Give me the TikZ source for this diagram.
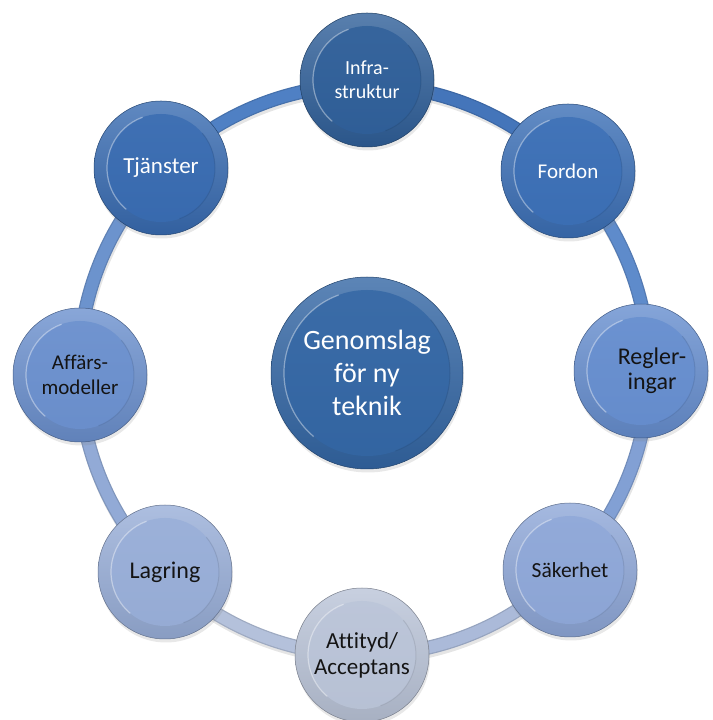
\documentclass[tikz,border=0pt]{standalone}
\usepackage{fontspec}
\setmainfont{Carlito}[Ligatures=NoCommon]
\usetikzlibrary{shadows}
\definecolor{cInfra}{HTML}{2F5F99}
\definecolor{cCenter}{HTML}{3366A4}
\definecolor{cFordon}{HTML}{3B6FB6}
\definecolor{cTja}{HTML}{386BB1}
\definecolor{cRegler}{HTML}{668ECF}
\definecolor{cAff}{HTML}{6B90CE}
\definecolor{cSak}{HTML}{8EA7D8}
\definecolor{cLag}{HTML}{98AED8}
\definecolor{cAtt}{HTML}{BAC4D8}
\definecolor{sTI}{HTML}{4F80C4}
\definecolor{sIF}{HTML}{4475BA}
\definecolor{sFR}{HTML}{5E8BCB}
\definecolor{sRS}{HTML}{82A0D4}
\definecolor{sSA}{HTML}{ABBAD9}
\definecolor{sAL}{HTML}{B4C1DB}
\definecolor{sLA}{HTML}{92AAD6}
\definecolor{sAT}{HTML}{6C93CD}
\tikzset{
  inner r/.store in=\innerr, inner r=54pt,
  seg/.style={line width=14pt, draw=#1!88!black,
    preaction={draw=black, opacity=.10, line width=14pt, transform canvas={xshift=1pt,yshift=-3pt}},
    postaction={draw=#1, line width=11.5pt}},
  bub/.style={circle, inner sep=0pt, minimum size=134pt, align=center,
    top color=#1!80!white, bottom color=#1!90!black, draw=#1!65!black, line width=0.5pt,
    drop shadow={shadow xshift=1pt, shadow yshift=-3.5pt, opacity=.18},
    path picture={
      \shade[top color=#1!96!white, bottom color=#1!98!black] (path picture bounding box.center) circle (\innerr);
      \draw[white, opacity=.4, line width=1.2pt] (path picture bounding box.center) ++(110:\innerr) arc[start angle=110, end angle=230, radius=\innerr];
      \draw[#1!70!black, opacity=.3, line width=1pt] (path picture bounding box.center) ++(-70:\innerr) arc[start angle=-70, end angle=40, radius=\innerr];
    }},
  wtext/.style={text=white},
  btext/.style={text=black!92}
}
\begin{document}
\begin{tikzpicture}[x=1pt,y=1pt]
\useasboundingbox (0,0) rectangle (712,720);
\coordinate (rc) at (364,350);
% ring segments
\draw[seg=sTI] (rc) ++(135:285) arc[start angle=135,end angle=90,radius=285];
\draw[seg=sIF] (rc) ++(90:285) arc[start angle=90,end angle=45,radius=285];
\draw[seg=sFR] (rc) ++(45:285) arc[start angle=45,end angle=0,radius=285];
\draw[seg=sRS] (rc) ++(0:285) arc[start angle=0,end angle=-45,radius=285];
\draw[seg=sSA] (rc) ++(-45:285) arc[start angle=-45,end angle=-90,radius=285];
\draw[seg=sAL] (rc) ++(-90:285) arc[start angle=-90,end angle=-135,radius=285];
\draw[seg=sLA] (rc) ++(-135:285) arc[start angle=-135,end angle=-180,radius=285];
\draw[seg=sAT] (rc) ++(180:285) arc[start angle=180,end angle=135,radius=285];
% circles
\node[bub=cInfra, wtext, font=\fontsize{20}{24}\selectfont] (infra) at (367,640) {Infra-\\struktur};
\node[bub=cFordon, wtext, font=\fontsize{21}{25}\selectfont] (fordon) at (568,549) {Fordon};
\node[bub=cRegler, btext, font=\fontsize{24}{25}\selectfont] (regler) at (641,349) {\hspace*{22pt}Regler-\\\hspace*{22pt}ingar};
\node[bub=cSak, btext, font=\fontsize{21.5}{25}\selectfont] (sak) at (570,150) {Säkerhet};
\node[bub=cAtt, btext, font=\fontsize{23}{26}\selectfont] (att) at (362,65) {Attityd/\\Acceptans};
\node[bub=cLag, btext, font=\fontsize{24}{28}\selectfont] (lag) at (165,148) {Lagring};
\node[bub=cAff, btext, font=\fontsize{21}{25}\selectfont] (aff) at (80,345) {Affärs-\\modeller};
\node[bub=cTja, wtext, font=\fontsize{23}{27}\selectfont] (tja) at (161,552) {Tjänster};
\node[bub=cCenter, minimum size=192pt, inner r=83pt, wtext, font=\fontsize{28}{33}\selectfont] (center) at (367,347) {Genomslag\\för ny\\teknik};
\end{tikzpicture}
\end{document}
